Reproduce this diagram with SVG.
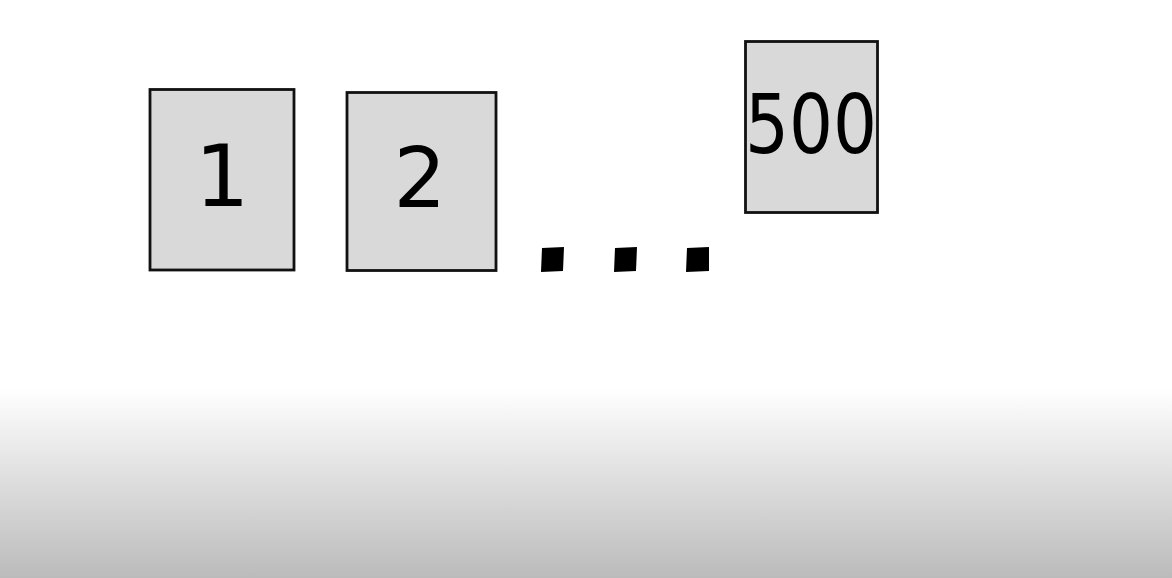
<svg xmlns="http://www.w3.org/2000/svg" width="1172" height="578" viewBox="0 0 1172 578">
  <defs>
    <linearGradient id="bg" x1="0" y1="0" x2="0" y2="1">
      <stop offset="0" stop-color="#ffffff"/>
      <stop offset="1" stop-color="#bbbbbb"/>
    </linearGradient>
  </defs>
  <style>
    .box { fill: #d9d9d9; stroke: #111111; stroke-width: 2.8; }
    .lbl { font-family: "DejaVu Sans", "Liberation Sans", sans-serif; fill: #000000; text-anchor: middle; }
    .dot { fill: #000000; }
  </style>
  <rect x="0" y="0" width="1172" height="578" fill="#ffffff"/>
  <rect x="0" y="388" width="1172" height="190" fill="url(#bg)"/>
  <g id="node-1">
    <rect class="box" x="150" y="89.5" width="144" height="180.5"/>
    <text class="lbl" x="222" y="206" font-size="86">1</text>
  </g>
  <g id="node-2">
    <rect class="box" x="347" y="92.5" width="149" height="178"/>
    <text class="lbl" x="420" y="207" font-size="83">2</text>
  </g>
  <g id="node-500">
    <rect class="box" x="745.5" y="41.5" width="132" height="171"/>
    <text class="lbl" x="811" y="153" font-size="82" textLength="132" lengthAdjust="spacingAndGlyphs">500</text>
  </g>
  <g id="ellipsis">
    <polygon class="dot" points="542,248 564,247 563,271 541,272"/>
    <polygon class="dot" points="615,248 637,247 636,271 614,272"/>
    <polygon class="dot" points="687,248 709,247 709,271 686,272"/>
  </g>
</svg>
